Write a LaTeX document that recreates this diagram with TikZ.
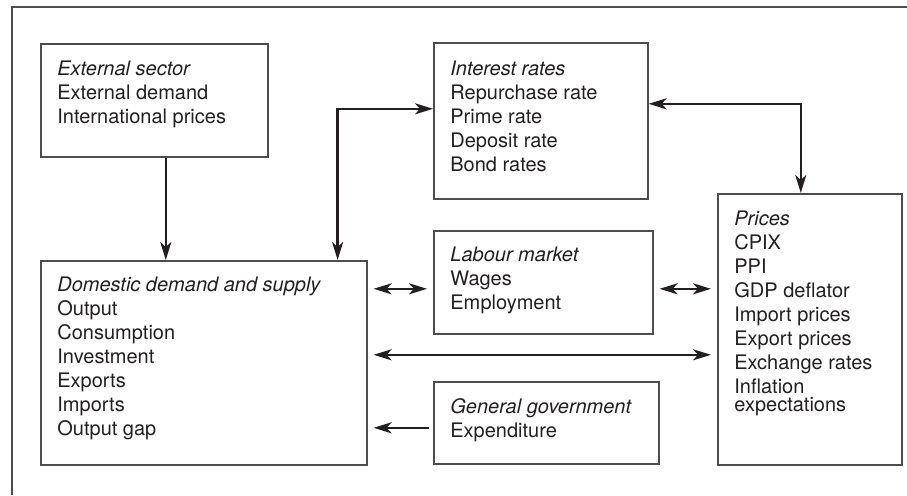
\documentclass[tikz,border=0pt]{standalone}
\usepackage{fontspec}
\setsansfont{TeX Gyre Heros}
\usetikzlibrary{arrows.meta, positioning, calc}
\definecolor{ink}{HTML}{231F20}
\definecolor{rule}{HTML}{4D4D4D}
\tikzset{
  font=\sffamily\fontsize{10}{12}\selectfont,
  >={Stealth[length=9pt, width=5.5pt, inset=2.5pt]},
  %
  box/.style={draw=rule, line width=0.8pt, anchor=north west, inner sep=0pt},
  txt/.style={anchor=north west, align=left, text=ink, inner sep=0pt},
  %
  flow/.style={draw=ink, line width=1.2pt, ->},
  flowboth/.style={flow, <->},
  gap/.style={shorten <=3pt, shorten >=3pt},
}
\begin{document}
\begin{tikzpicture}[x=0.5pt, y=-0.5pt]
  \useasboundingbox (0,0) rectangle (907,495);

  % --- frame ------------------------------------------------------------
  \draw[draw=rule, line width=0.8pt] (907,7) -- (12,7) -- (12,495);

  % --- left column ------------------------------------------------------
  \node[box, minimum width=113.5pt, minimum height=56.5pt] (ext) at (40,43) {};
  \node[txt, below right=9pt and 8.5pt of ext.north west] (ext-t)
    {\textit{External sector}\\External demand\\International prices};

  \node[box, minimum width=163pt, minimum height=102pt] (dom) at (40,260) {};
  \node[txt, below right=8.5pt and 8.5pt of dom.north west] (dom-t)
    {\textit{Domestic demand and supply}\\Output\\Consumption\\Investment\\
     Exports\\Imports\\Output gap};

  % --- middle column ----------------------------------------------------
  \node[box, minimum width=107pt, minimum height=78pt] (int) at (433,42) {};
  \node[txt, below right=9.5pt and 8.5pt of int.north west] (int-t)
    {\textit{Interest rates}\\Repurchase rate\\Prime rate\\Deposit rate\\Bond rates};

  \node[box, minimum width=109.5pt, minimum height=51.5pt] (lab) at (433,230) {};
  \node[txt, below right=8.5pt and 8.5pt of lab.north west] (lab-t)
    {\textit{Labour market}\\Wages\\Employment};

  \node[box, minimum width=112.5pt, minimum height=41pt] (gov) at (433,381) {};
  \node[txt, below right=8.5pt and 8.5pt of gov.north west] (gov-t)
    {\textit{General government}\\Expenditure};

  % --- right column -----------------------------------------------------
  \node[box, minimum width=92pt, minimum height=135.5pt] (pri) at (717,193) {};
  \node[txt, below right=9pt and 8.5pt of pri.north west] (pri-t)
    {\textit{Prices}\\CPIX\\PPI\\GDP deflator\\Import prices\\Export prices\\
     Exchange rates\\Inflation\\[-3pt]expectations};

  % --- links ------------------------------------------------------------
  \draw[flow] ([xshift=5.75pt]ext.south) -- ([xshift=5.75pt]ext.south |- dom.north);
  \draw[flowboth] ([xshift=-15pt]dom.north east) |- ([yshift=6pt]int.west);
  \draw[flowboth] ([yshift=8.5pt]int.east) -| ([xshift=-4.5pt]pri.north);

  \coordinate (wl) at ([yshift=-3.25pt]lab.west);
  \coordinate (el) at ([yshift=-3.25pt]lab.east);
  \draw[flowboth, gap] (dom.east |- wl) -- (wl);
  \draw[flowboth, gap] (el) -- (el -| pri.west);

  \coordinate (dp) at ([yshift=4pt]dom.east);
  \draw[flowboth, gap] (dp) -- (dp -| pri.west);

  \coordinate (gw) at ([yshift=-2.5pt]gov.west);
  \draw[flow, shorten <=2pt, shorten >=3pt] (gw) -- (gw -| dom.east);

\end{tikzpicture}
\end{document}
